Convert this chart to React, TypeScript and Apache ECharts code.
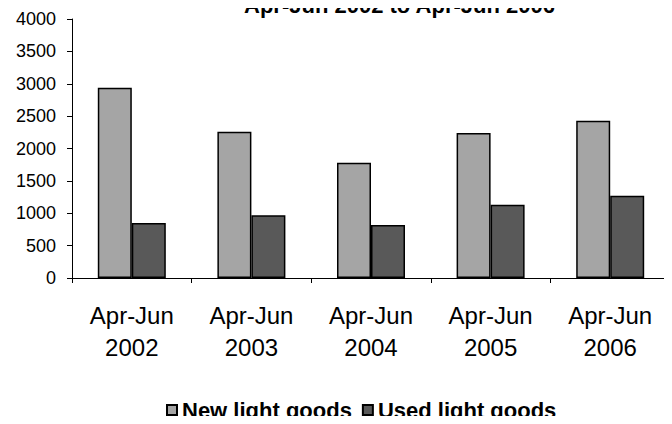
import React, { useEffect, useRef } from "react";
import * as echarts from "echarts";

const categories = ["Apr-Jun\n2002", "Apr-Jun\n2003", "Apr-Jun\n2004", "Apr-Jun\n2005", "Apr-Jun\n2006"];
const newLightGoods = [2940, 2260, 1780, 2240, 2430];
const usedLightGoods = [850, 970, 820, 1130, 1270];
const seriesNames = ["New light goods", "Used light goods"];
const titleText = "Apr-Jun 2002 to Apr-Jun 2006";

const FONT = "'Liberation Sans', Arial, sans-serif";

export default function App() {
  const ref = useRef<HTMLDivElement>(null);
  useEffect(() => {
    if (!ref.current) return;
    const chart = echarts.init(ref.current, undefined, { renderer: "svg" });
    chart.setOption({
      animation: false,
      backgroundColor: "#ffffff",
      title: {
        text: titleText,
        left: 244,
        top: -6,
        padding: 0,
        textStyle: { fontFamily: FONT, fontSize: 22, fontWeight: "bold", color: "#000", lineHeight: 22 },
      },
      grid: { left: 72, right: 2, top: 19, bottom: 146 },
      legend: {
        left: 166,
        top: 399,
        padding: 0,
        itemWidth: 10,
        itemHeight: 10,
        itemGap: 10,
        icon: "rect",
        textStyle: { fontFamily: FONT, fontSize: 22, fontWeight: "bold", color: "#000", lineHeight: 22 },
        data: seriesNames,
      },
      xAxis: {
        type: "category",
        data: categories,
        axisLine: { lineStyle: { color: "#000", width: 1 } },
        axisTick: { show: true, length: 5, alignWithLabel: false, lineStyle: { color: "#000" } },
        axisLabel: { fontFamily: FONT, fontSize: 24, lineHeight: 32, color: "#000", margin: 21, interval: 0 },
        splitLine: { show: false },
      },
      yAxis: {
        type: "value",
        min: 0,
        max: 4000,
        interval: 500,
        axisLine: { show: true, lineStyle: { color: "#000", width: 1 } },
        axisTick: { show: true, length: 5, lineStyle: { color: "#000" } },
        axisLabel: {
          fontFamily: FONT,
          fontSize: 18,
          color: "#000",
          margin: 16,
          formatter: (v: number) => String(v),
        },
        splitLine: { show: false },
      },
      series: [
        {
          name: seriesNames[0],
          type: "bar",
          data: newLightGoods,
          barWidth: 34,
          barGap: "0%",
          itemStyle: { color: "#A5A5A5", borderColor: "#000", borderWidth: 1.5 },
        },
        {
          name: seriesNames[1],
          type: "bar",
          data: usedLightGoods,
          barWidth: 34,
          barGap: "0%",
          itemStyle: { color: "#595959", borderColor: "#000", borderWidth: 1.5 },
        },
      ],
    });
    return () => chart.dispose();
  }, []);
  return <div ref={ref} style={{ width: 672, height: 424, margin: -8 }} />;
}
